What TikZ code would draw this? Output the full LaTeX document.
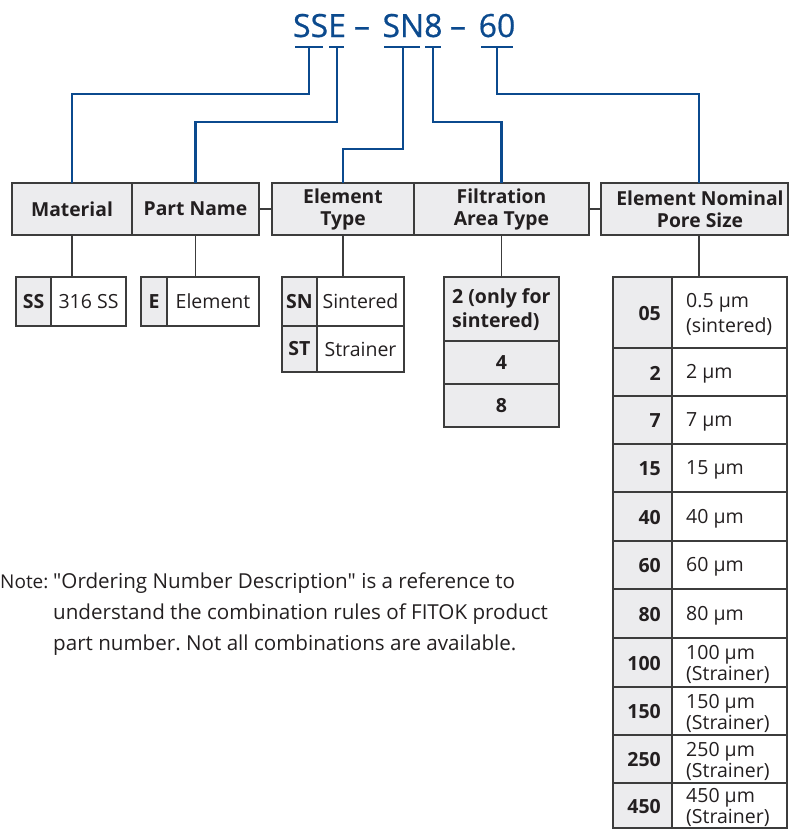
\documentclass[tikz,border=0pt]{standalone}
\usepackage{fontspec}
\setmainfont{Open Sans}
\newfontfamily\titlefont[FakeBold=0.6]{Open Sans}
\newfontfamily\notefont{Open Sans}
\definecolor{fblue}{HTML}{0B4A8E}
\definecolor{fgray}{HTML}{ECECEE}
\definecolor{fline}{HTML}{3C3C3C}
\definecolor{ftext}{HTML}{231F20}
\newcommand{\cellbox}[6]{%
  \node[cell, fill=#6, minimum width={#4-#2}, minimum height={#5-#3}] (#1) at (#2,#3) {};}
\frenchspacing
\begin{document}
\begin{tikzpicture}[x=1pt,y=-1pt,
  cell/.style={draw=fline, line width=1.3pt, inner sep=0pt, outer sep=0pt, anchor=north west},
  bline/.style={draw=fblue, line width=2.4pt},
  gline/.style={draw=fline, line width=1.3pt},
  hdr/.style={font=\fontsize{19.3}{22}\selectfont\bfseries, text=ftext, align=center, inner sep=0pt},
  keyt/.style={font=\fontsize{19.5}{24}\selectfont\bfseries, text=ftext, inner sep=0pt},
  valt/.style={font=\fontsize{19.5}{24}\selectfont, text=ftext, inner sep=0pt},
  ttl/.style={font=\titlefont\fontsize{32}{36}\selectfont, text=fblue, inner sep=0pt, anchor=base}]
\useasboundingbox (0,0) rectangle (789,831);
% ---- title ----
\node[ttl] (tSSE) at (319.5,37) {SSE};
\node[ttl] (tD1) at (362,37) {–};
\node[ttl] (tSN8) at (412.5,37) {SN8};
\node[ttl] (tD2) at (458,37) {–};
\node[ttl] (t60) at (497,37) {60};
\coordinate (uSSa) at (295,47); \coordinate (uSSb) at (323,47);
\coordinate (uEa) at (329,47);  \coordinate (uEb) at (344,47);
\coordinate (uSNa) at (384,47); \coordinate (uSNb) at (420,47);
\coordinate (u8a) at (425,47);  \coordinate (u8b) at (441,47);
\coordinate (u60a) at (481,47); \coordinate (u60b) at (513,47);
\foreach \p in {SS,E,SN,8,60} {\draw[bline] (u\p a) -- (u\p b);}
\coordinate (uSS) at (309,47);
\coordinate (uE) at (337,47);
\coordinate (uSN) at (403,47);
\coordinate (u8) at (433,47);
\coordinate (u60) at (497,47);
% ---- header boxes ----
\cellbox{mat}{12}{183}{132}{235}{fgray}
\cellbox{pn}{132}{183}{259}{235}{fgray}
\cellbox{et}{272}{183}{414}{235}{fgray}
\cellbox{flt}{414}{183}{589}{235}{fgray}
\cellbox{pore}{601}{183}{788}{235}{fgray}
\node[hdr] (matT) at (mat.center) {Material};
\node[hdr] (pnT) at (pn.center) {Part Name};
\node[hdr] (etT) at (et.center) {Element\\Type};
\node[hdr] (fltT) at (flt.center) {Filtration\\Area Type};
\node[hdr] (poreT) at (700,209) {Element Nominal\\Pore Size};
\draw[gline] (pn.east) -- (et.west);
\draw[gline] (flt.east) -- (pore.west);
\coordinate (poreTop) at (699,183);
\coordinate (poreBot) at (699,235);
% ---- blue connectors ----
\draw[bline] (uSS) -- ++(0,47) -| (mat.north);
\draw[bline] (uE) -- ++(0,75) -| (pn.north);
\draw[bline] (uSN) -- ++(0,102) -| (et.north);
\draw[bline] (u8) -- ++(0,75) -| (flt.north);
\draw[bline] (u60) -- ++(0,47) -| (poreTop);
% ---- material ----
\cellbox{ssk}{16}{277}{51}{326}{fgray}
\cellbox{ssv}{51}{277}{126}{326}{white}
\node[keyt] at (ssk.center) {SS};
\node[valt] at (ssv.center) {316 SS};
\draw[gline] (mat.south) -- (mat.south |- ssv.north);
% ---- part name ----
\cellbox{ek}{141}{277}{167}{326}{fgray}
\cellbox{ev}{167}{277}{259}{326}{white}
\node[keyt] at (ek.center) {E};
\node[valt] at (ev.center) {Element};
\draw[gline] (pn.south) -- (pn.south |- ev.north);
% ---- element type ----
\cellbox{snk}{282}{277}{317}{326}{fgray}
\cellbox{snv}{317}{277}{404}{326}{white}
\cellbox{stk}{282}{326}{317}{372}{fgray}
\cellbox{stv}{317}{326}{404}{372}{white}
\node[keyt] at (snk.center) {SN};
\node[valt] at (snv.center) {Sintered};
\node[keyt] at (stk.center) {ST};
\node[valt] at (stv.center) {Strainer};
\draw[gline] (et.south) -- (et.south |- snv.north);
% ---- filtration ----
\cellbox{f2}{444}{277}{559}{341}{fgray}
\cellbox{f4}{444}{341}{559}{384}{fgray}
\cellbox{f8}{444}{384}{559}{427}{fgray}
\node[keyt, align=left, anchor=west] at (452,310) {2 (only for\\sintered)};
\node[keyt] at (f4.center) {4};
\node[keyt] at (f8.center) {8};
\draw[gline] (flt.south) -- (flt.south |- f2.north);
% ---- pore size ----
\foreach \t/\b/\k/\v/\l [count=\i] in {
  277/348/05/{0.5 µm\\(sintered)}/25,
  348/396/2/{2 µm}/24,
  396/444/7/{7 µm}/24,
  444/492/15/{15 µm}/24,
  492/541/40/{40 µm}/24,
  541/589/60/{60 µm}/24,
  589/638/80/{80 µm}/24,
  638/687/100/{100 µm\\(Strainer)}/21,
  687/735/150/{150 µm\\(Strainer)}/21,
  735/783/250/{250 µm\\(Strainer)}/21,
  783/828/450/{450 µm\\(Strainer)}/21} {
  \cellbox{pk\i}{613}{\t}{672}{\b}{fgray}
  \cellbox{pv\i}{672}{\t}{787}{\b}{white}
  \node[keyt, anchor=east] at (661,{(\t+\b)/2+1}) {\k};
  \node[valt, align=left, anchor=west, font=\fontsize{19.5}{\l}\selectfont] at (686,{(\t+\b)/2+2}) {\v};
}
\draw[gline] (poreBot) -- (poreBot |- pv1.north);
% ---- note ----
\node[anchor=base west, inner sep=0pt, text=ftext, font=\notefont\fontsize{20.6}{31}\selectfont] (note) at (0,588)
  {\begin{tabular}[t]{@{}p{53pt}@{}l@{}}{\fontsize{19}{31}\selectfont Note:} & "Ordering Number Description" is a reference to\\
   & understand the combination rules of FITOK product\\
   & part number. Not all combinations are available.\end{tabular}};
\end{tikzpicture}
\end{document}
